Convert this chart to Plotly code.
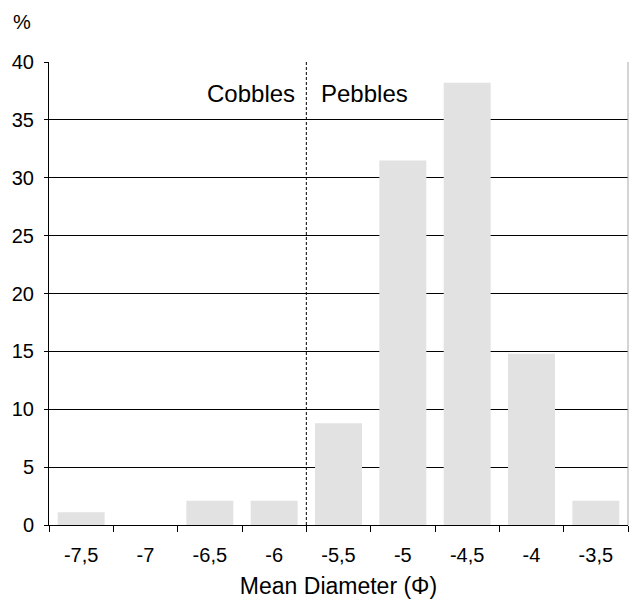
import plotly.graph_objects as go

categories = ["-7,5", "-7", "-6,5", "-6", "-5,5", "-5", "-4,5", "-4", "-3,5"]
percent = [1.1, 0, 2.1, 2.1, 8.8, 31.5, 38.2, 14.8, 2.1]
y_ticks = [0, 5, 10, 15, 20, 25, 30, 35, 40]

FONT = "Liberation Sans, Arial, sans-serif"

fig = go.Figure()
fig.add_trace(go.Bar(
    x=categories, y=percent,
    marker=dict(color="#e1e2e1", line=dict(width=0)),
    hoverinfo="x+y",
))

fig.update_layout(
    width=629, height=600,
    margin=dict(l=49, r=1, t=62, b=75),
    paper_bgcolor="white", plot_bgcolor="white",
    bargap=0.27,
    showlegend=False,
    font=dict(family=FONT, color="black"),
    xaxis=dict(
        type="category",
        showgrid=False,
        showline=True, linecolor="black", linewidth=1,
        ticks="outside", tickson="boundaries", ticklen=6, tickcolor="black",
        tickfont=dict(size=20, family=FONT),
        ticklabelstandoff=12,
        title=dict(text="Mean Diameter (Φ)", font=dict(size=23, family=FONT), standoff=12),
        zeroline=False,
    ),
    yaxis=dict(
        range=[0, 40],
        tickvals=y_ticks,
        showgrid=True, gridcolor="black", gridwidth=1,
        showline=True, linecolor="black", linewidth=1,
        ticks="outside", ticklen=4, tickcolor="black",
        tickfont=dict(size=20, family=FONT),
        ticklabelstandoff=6,
        zeroline=False,
    ),
    shapes=[
        dict(type="line", xref="x", yref="y", x0=3.5, x1=3.5, y0=0, y1=40,
             line=dict(color="black", width=1, dash="3px,2px")),
        dict(type="line", xref="paper", yref="paper", x0=1, x1=1, y0=0, y1=1,
             line=dict(color="#aaaaaa", width=1)),
    ],
    annotations=[
        dict(text="%", xref="paper", yref="paper", x=-0.066, y=1.086,
             xanchor="left", yanchor="middle", showarrow=False,
             font=dict(size=20, family=FONT)),
        dict(text="Cobbles", xref="x", yref="y", x=3.35, y=37.3,
             xanchor="right", yanchor="middle", showarrow=False,
             font=dict(size=24, family=FONT)),
        dict(text="Pebbles", xref="x", yref="y", x=3.7, y=37.3,
             xanchor="left", yanchor="middle", showarrow=False,
             font=dict(size=24, family=FONT)),
    ],
)

fig.write_html("out.html", config={"displayModeBar": False},
               post_script="document.body.style.margin='0';")
